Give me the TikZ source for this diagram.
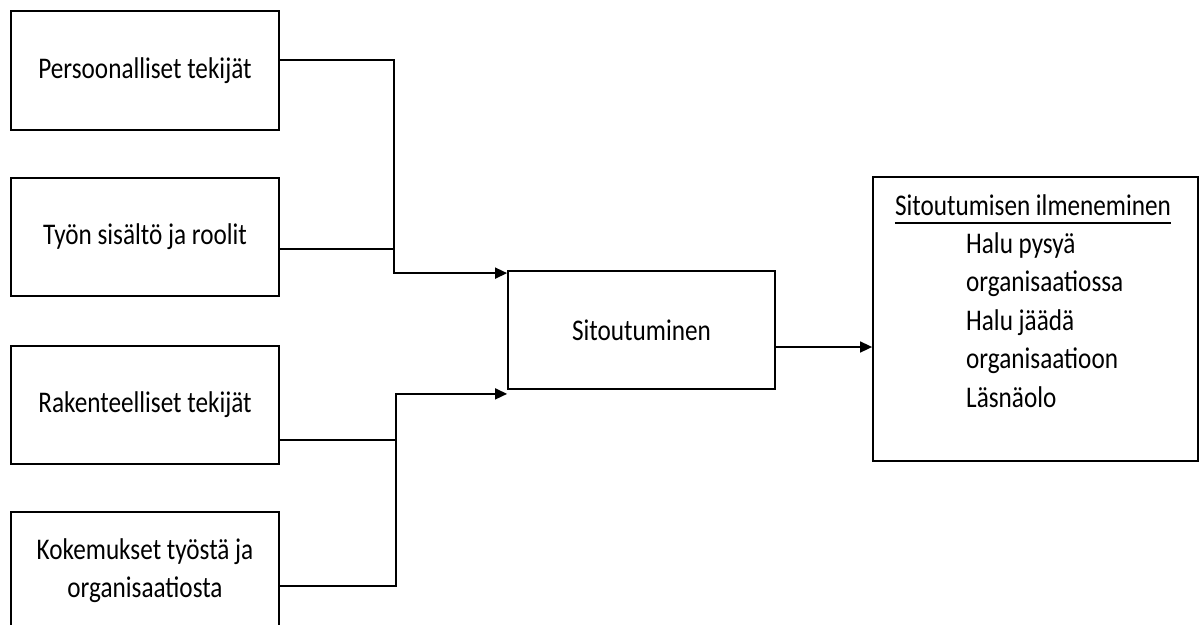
\documentclass[tikz,border=0pt]{standalone}
\usepackage{fontspec}
\setmainfont{Carlito}[FakeStretch=0.84]
\usetikzlibrary{arrows.meta}
\tikzset{
  box/.style={draw=black, line width=1.8pt, minimum width=268pt, minimum height=118pt, inner sep=0pt, align=center},
  conn/.style={draw=black, line width=1.6pt},
  arr/.style={conn, -{Triangle[length=12pt,width=11pt]}},
  txt/.style={inner sep=0pt}
}
\begin{document}
\begin{tikzpicture}[x=1pt, y=-1pt, font=\fontsize{30}{38}\selectfont]
\useasboundingbox (0,0) rectangle (1201,624);
% left boxes
\node[box, minimum height=119pt] (b1) at (145,70.5) {Persoonalliset tekijät};
\node[box] (b2) at (145,237) {Työn sisältö ja roolit};
\node[box] (b3) at (145,405) {Rakenteelliset tekijät};
\node[box] (b4) at (145,571) {Kokemukset työstä ja\\organisaatiosta};
% middle box
\node[box, minimum width=267pt] (S) at (641.5,330) {Sitoutuminen};
% right box
\node[box, minimum width=325pt, minimum height=284pt] (R) at (1035.5,319) {};
\node[txt, anchor=base] (h) at (1033,215) {Sitoutumisen ilmeneminen};
\draw[line width=2pt] ([yshift=-8pt]h.base west) -- ([yshift=-8pt]h.base east);
\node[txt, anchor=base west] (l1) at (966,253) {Halu pysyä};
\node[txt, anchor=base west] (l2) at (966,291.5) {organisaatiossa};
\node[txt, anchor=base west] (l3) at (966,330) {Halu jäädä};
\node[txt, anchor=base west] (l4) at (966,368.5) {organisaatioon};
\node[txt, anchor=base west] (l5) at (966,407) {Läsnäolo};
% connectors
\draw[arr] ([yshift=10.5pt]b1.east) -- ++(114,0) |- ([yshift=-3pt]S.north west);
\draw[conn] ([yshift=-12pt]b2.east) -- ++(114,0);
\draw[conn] ([yshift=-35pt]b3.east) -- ++(116,0);
\draw[arr] ([yshift=-15pt]b4.east) -- ++(116,0) |- ([yshift=-4pt]S.south west);
\draw[arr] ([yshift=-17pt]S.east) -- ([yshift=-28pt]R.west);
\end{tikzpicture}
\end{document}
